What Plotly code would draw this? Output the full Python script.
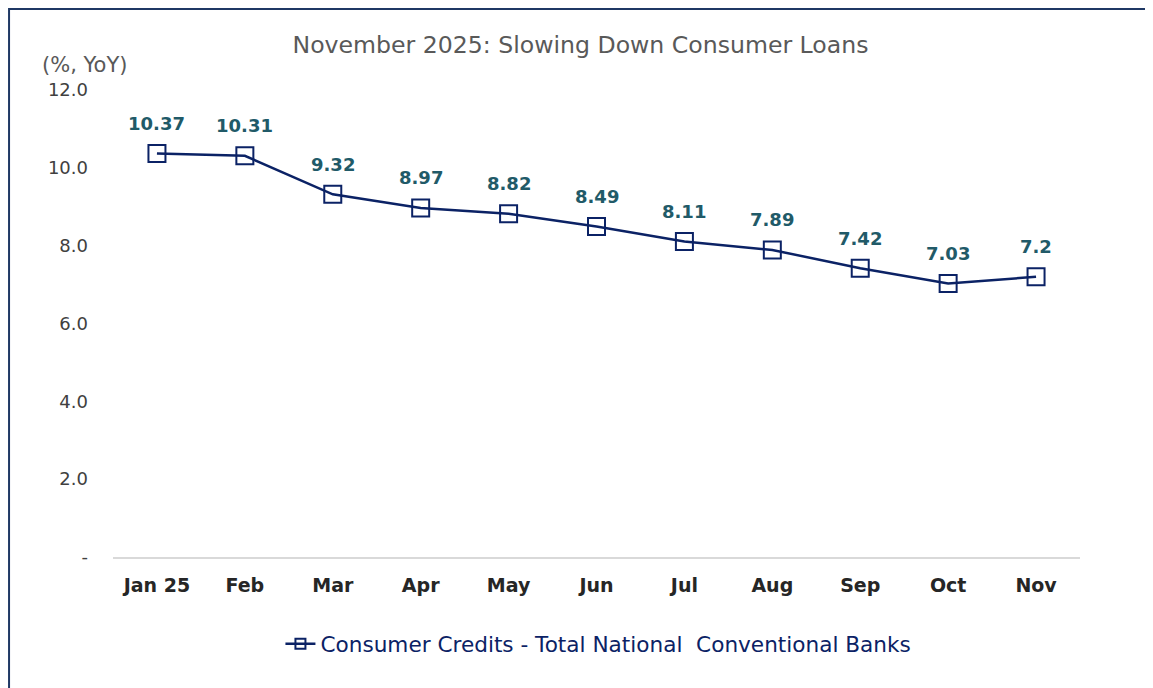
import plotly.graph_objects as go

categories = ["Jan 25", "Feb", "Mar", "Apr", "May", "Jun", "Jul", "Aug", "Sep", "Oct", "Nov"]
values = [10.37, 10.31, 9.32, 8.97, 8.82, 8.49, 8.11, 7.89, 7.42, 7.03, 7.2]
value_labels = ["10.37", "10.31", "9.32", "8.97", "8.82", "8.49", "8.11", "7.89", "7.42", "7.03", "7.2"]
y_ticks = [0, 2, 4, 6, 8, 10, 12]
y_tick_labels = ["-", "2.0", "4.0", "6.0", "8.0", "10.0", "12.0"]
series_name = "Consumer Credits - Total National\u00a0 Conventional Banks"

NAVY = "#0B2265"
FONT = "DejaVu Sans"

fig = go.Figure()
fig.add_trace(go.Scatter(
    x=categories, y=values, mode="lines+markers", name=series_name, showlegend=False,
    line=dict(color=NAVY, width=2.5),
    marker=dict(symbol="square-open", size=17, color=NAVY, line=dict(width=2, color=NAVY)),
    hoverinfo="skip",
))
# legend-only entry with a small marker, as in the reference legend
fig.add_trace(go.Scatter(
    x=[None], y=[None], mode="lines+markers", name=series_name, showlegend=True,
    line=dict(color=NAVY, width=2.5),
    marker=dict(symbol="square-open", size=10, color=NAVY, line=dict(width=2, color=NAVY)),
    hoverinfo="skip",
))

for c, v, t in zip(categories, values, value_labels):
    fig.add_annotation(x=c, y=v, text="<b>%s</b>" % t, showarrow=False, yshift=30,
                       font=dict(family=FONT, size=18, color="#215A68"))

fig.add_annotation(xref="paper", yref="paper", x=-0.0755, y=1.0, yshift=25, xanchor="left", yanchor="middle",
                   text="(%, YoY)", showarrow=False, font=dict(family=FONT, size=21, color="#595959"))

# outer border (top and left visible)
fig.add_shape(type="rect", xref="paper", yref="paper", x0=-0.1075, x1=1.3, y0=-0.6, y1=1.1734,
              line=dict(color="#1F3864", width=2), layer="above")

fig.update_layout(
    width=1145, height=680,
    margin=dict(l=105, r=73, t=82, b=131),
    paper_bgcolor="white", plot_bgcolor="white",
    font=dict(family=FONT),
    title=dict(text="November 2025: Slowing Down Consumer Loans", x=0.5, xanchor="center",
               y=0.9456, yanchor="middle", font=dict(family=FONT, size=23.6, color="#595959")),
    showlegend=True,
    legend=dict(orientation="h", x=0.502, xanchor="center", y=-0.142, yanchor="top",
                font=dict(family=FONT, size=21.6, color=NAVY)),
    xaxis=dict(type="category", range=[-0.5, 10.5], showgrid=False, showline=True,
               linecolor="#D9D9D9", linewidth=2, ticks="", ticklabelstandoff=10,
               tickfont=dict(family=FONT, size=19, color="#262626"),
               tickvals=categories, ticktext=["<b>%s</b>" % c for c in categories]),
    yaxis=dict(range=[0, 12], tickvals=y_ticks, ticktext=y_tick_labels, showgrid=False,
               zeroline=False, showline=False, ticks="", ticklabelstandoff=24,
               tickfont=dict(family=FONT, size=18, color="#404040")),
)

fig.write_html("out.html")
